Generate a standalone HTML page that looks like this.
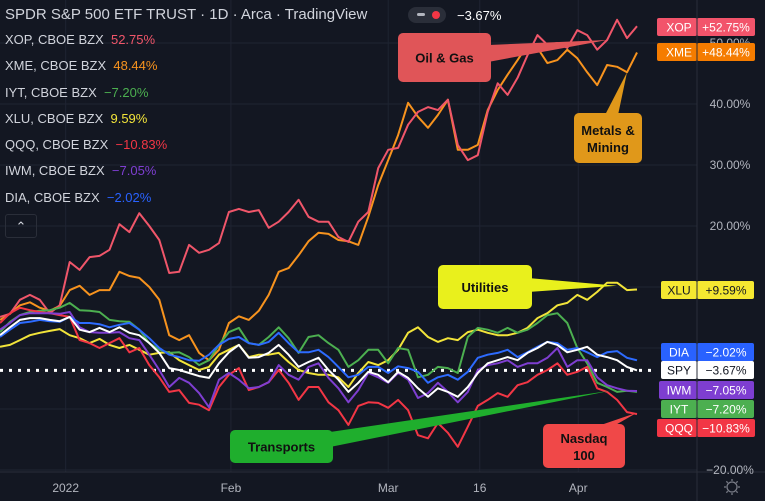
<!DOCTYPE html>
<html><head><meta charset="utf-8">
<style>
html,body{margin:0;padding:0;background:#131722;}
body{width:765px;height:501px;overflow:hidden;position:relative;font-family:"Liberation Sans",sans-serif;}
svg{position:absolute;left:0;top:0;}
</style></head>
<body>
<svg id="chart" width="765" height="501" xmlns="http://www.w3.org/2000/svg"></svg>
<script>
const tickerNames = ["XOP","XME","IYT","XLU","QQQ","IWM","DIA","SPY"];
const finalValues = [52.75,48.44,-7.20,9.59,-10.83,-7.05,-2.02,-3.67];
const xopValues = [5.1,5.6,7.9,8.7,7.9,5.7,7.0,14.1,12.8,14.9,15.1,16.1,20.3,19.0,22.1,20.0,17.7,12.3,12.5,16.9,15.6,16.1,17.2,22.3,22.8,22.3,22.6,19.7,20.7,22.3,24.3,21.5,20.7,20.7,18.2,17.4,20.7,22.3,29.5,32.5,32.8,36.6,38.7,39.5,39.0,40.7,33.3,30.8,31.6,38.7,43.4,41.5,44.3,48.0,51.3,49.7,50.0,49.2,52.1,51.3,48.9,50.5,53.8,50.8,52.75];
const xmeValues = [4.6,5.6,7.0,7.5,6.6,6.1,6.9,9.5,10.2,8.7,9.5,9.5,12.5,11.8,11.5,10.0,7.9,2.1,1.3,2.1,-0.8,-2.0,-0.3,4.1,5.2,4.6,6.1,8.7,12.5,13.1,15.2,17.5,18.9,18.7,17.7,17.5,16.9,21.5,26.7,30.8,34.9,40.2,37.9,36.1,38.2,40.7,32.5,32.5,33.3,39.0,42.3,44.8,47.2,49.7,49.2,46.7,47.2,48.9,47.5,45.2,43.1,46.4,46.1,45.2,48.44];
const iytValues = [2.6,4.3,5.4,5.9,6.1,6.2,6.6,7.4,6.2,6.1,5.9,4.6,4.4,4.3,3.0,0.8,-0.3,-0.8,-0.7,-1.5,-2.8,-2.0,0.5,2.6,3.3,0.8,0.5,1.8,3.4,1.6,-0.8,1.8,2.1,0.8,-0.3,-3.1,-2.0,-0.3,-0.3,-2.5,0,-0.3,-4.8,-4.4,-3.1,-3.3,-4.1,1.8,3.3,3.0,2.5,3.3,2.5,3.0,4.1,5.4,5.7,4.1,0,-2.5,-5.7,-6.4,-7.2,-7.0,-7.20];
const xluValues = [0.2,0.5,1.3,2.1,2.5,2.8,3.1,2.1,1.6,0.8,1.5,0.5,0,0.5,-0.3,-1.1,-0.8,-0.7,-2.0,-2.8,-3.6,-3.1,-1.1,-0.3,0.5,-1.5,-1.1,-1.1,-0.8,-2.3,-3.6,-4.1,-4.4,-4.4,-4.8,-6.4,-4.1,-2.3,-2.8,-2.0,-0.3,2.5,3.4,1.8,1.0,1.6,1.3,2.6,3.0,2.5,2.1,2.1,2.5,3.3,4.9,5.7,7.0,7.4,8.7,7.9,9.2,10.7,10.7,9.5,9.59];
const qqqValues = [4.1,5.7,6.6,6.2,5.9,5.7,5.4,5.1,1.3,0.8,0,0.8,1.6,-0.7,0,-2.8,-4.8,-7.2,-6.9,-9.0,-9.3,-10.2,-6.4,-4.4,-3.3,-6.9,-6.4,-5.6,-3.6,-5.7,-8.5,-6.4,-6.4,-8.9,-10.2,-12.6,-9.5,-8.9,-9.0,-9.8,-8.5,-10.2,-14.3,-14.8,-12.3,-13.9,-16.2,-12.9,-9.5,-8.5,-7.4,-8.0,-6.1,-5.6,-4.4,-3.6,-2.5,-4.4,-3.9,-3.1,-6.6,-7.2,-8.5,-10.5,-10.83];
const iwmValues = [3.0,4.1,5.4,5.7,5.7,5.7,5.6,5.9,3.4,2.6,2.5,2.5,2.6,1.6,1.3,-1.1,-3.6,-6.4,-4.9,-5.7,-7.4,-9.7,-5.2,-4.1,-5.2,-6.6,-6.4,-5.6,-2.8,-4.4,-5.2,-3.1,-2.5,-4.9,-6.6,-8.9,-6.9,-4.1,-4.8,-5.7,-4.1,-5.2,-8.2,-7.4,-5.7,-7.2,-8.9,-7.2,-3.6,-2.8,-2.5,-2.0,-3.1,-2.5,-2.5,-1.6,0,-3.1,-2.0,-2.0,-4.8,-6.1,-6.6,-7.0,-7.05];
const diaValues = [1.8,3.0,4.1,4.3,4.6,4.4,4.3,5.1,4.1,4.1,3.9,3.4,3.8,4.1,3.0,1.6,0,-1.1,-1.5,-2.0,-2.1,-1.1,0.5,1.5,1.8,0.8,0.5,1.0,2.5,0.8,-0.7,-0.7,-0.3,-1.5,-3.1,-4.8,-4.4,-3.1,-3.1,-4.1,-3.0,-3.3,-3.9,-5.7,-4.8,-4.4,-5.2,-3.9,-1.6,-1.1,-0.8,-0.3,-1.5,-0.7,0.2,1.0,0.8,-0.3,0,-0.7,-1.5,-0.7,-0.5,-1.6,-2.02];
const spyValues = [2.1,3.4,4.6,4.9,4.9,4.6,4.4,5.1,3.0,2.6,3.3,2.6,3.4,2.5,2.1,0.8,-0.8,-3.3,-3.6,-4.1,-4.6,-4.9,-2.5,-0.7,0.5,-1.6,-1.5,-0.8,0.5,-1.1,-3.1,-2.3,-1.6,-3.6,-5.2,-7.2,-5.7,-3.9,-4.4,-5.6,-3.9,-4.9,-6.6,-8.0,-6.6,-7.2,-8.0,-6.4,-4.1,-2.5,-2.0,-1.5,-2.0,-0.8,0,1.0,0.5,-0.7,-0.3,0.2,-1.1,-1.5,-2.0,-3.1,-3.67];
const timeLabels = ["2022","Feb","Mar","16","Apr"];
const timeLabelIndex = [6.6,23.2,39.0,48.2,58.1];
const priceTicks = [50,40,30,20,10,0,-10,-20];
const priceTickLabels = ["50.00%","40.00%","30.00%","20.00%","","","","−20.00%"];

const NS="http://www.w3.org/2000/svg";
const svg=document.getElementById('chart');
const N=xopValues.length;
function xScale(i){return i*637/(N-1);}
function yScale(v){return 348-v*6.1;}
function mk(tag,attrs,parent){const e=document.createElementNS(NS,tag);for(const k in attrs)e.setAttribute(k,attrs[k]);(parent||svg).appendChild(e);return e;}

// background
const bg=mk('rect',{x:0,y:0,width:765,height:501,fill:'#131722'});



// grid
const grid=mk('g',{});


priceTicks.forEach(t=>{const l=mk('line',{x1:0,x2:697,y1:yScale(t),y2:yScale(t),stroke:'#1f2432','stroke-width':1},grid);

});
timeLabelIndex.forEach(i=>{const l=mk('line',{x1:xScale(i),x2:xScale(i),y1:0,y2:472,stroke:'#1f2432','stroke-width':1},grid);

});

// axes
const ax=mk('line',{x1:697,x2:697,y1:0,y2:501,stroke:'#2a2e39','stroke-width':1});


const tx=mk('line',{x1:0,x2:765,y1:472,y2:472,stroke:'#2a2e39','stroke-width':1});



priceTicks.forEach((t,k)=>{if(!priceTickLabels[k])return;const e=mk('text',{x:730,y:yScale(t)+4,fill:'#b2b5be','font-size':12,'text-anchor':'middle','font-family':'Liberation Sans, sans-serif'});e.textContent=priceTickLabels[k];

});
timeLabels.forEach((s,k)=>{const e=mk('text',{x:xScale(timeLabelIndex[k]),y:492,fill:'#b2b5be','font-size':12,'text-anchor':'middle','font-family':'Liberation Sans, sans-serif'});e.textContent=s;

});

// SPY dotted last-value line
const dl=mk('line',{x1:0,x2:655,y1:yScale(finalValues[7]),y2:yScale(finalValues[7]),stroke:'#ffffff','stroke-width':3,'stroke-dasharray':'3 6'});



const seriesList=[
 ['xme',xmeValues,'#f7931e'],
 ['xop',xopValues,'#f0566a'],
 ['xlu',xluValues,'#f2e43a'],
 ['iyt',iytValues,'#4caf50'],
 ['qqq',qqqValues,'#f23645'],
 ['iwm',iwmValues,'#7e3ed1'],
 ['dia',diaValues,'#2d6bff'],
 ['spy',spyValues,'#ffffff']
];
seriesList.forEach(s=>{
 const pts=s[1].map((v,i)=>xScale(i).toFixed(1)+','+yScale(v).toFixed(1)).join(' ');
 const p=mk('polyline',{points:pts,fill:'none',stroke:s[2],'stroke-width':2,'stroke-linejoin':'round'});
 
 
});

// callouts
function callout(name,bx,by,bw,bh,color,tip,base,lines,tcolor){
 const g=mk('g',{});
 
 
 mk('polygon',{points:base.map(p=>p.join(',')).join(' ')+' '+tip.join(','),fill:color},g);
 mk('rect',{x:bx,y:by,width:bw,height:bh,rx:5,fill:color},g);
 lines.forEach((t,k)=>{const e=mk('text',{x:bx+bw/2,y:by+bh/2+5-(lines.length-1)*8+k*17,fill:tcolor||'#111','font-size':13,'font-weight':'bold','text-anchor':'middle','font-family':'Liberation Sans, sans-serif'},g);e.textContent=t;});
}
callout('oil-gas-callout',398,33,93,49,'#e05558',[xScale(61),yScale(50.5)],[[488,45],[488,62]],['Oil & Gas']);
callout('metals-mining-callout',574,113,68,50,'#e0981a',[xScale(63),yScale(45.2)],[[605,115],[618,115]],['Metals &','Mining']);
callout('utilities-callout',438,265,94,44,'#e9f01c',[xScale(62),yScale(10.2)],[[528,278],[528,292]],['Utilities']);
callout('transports-callout',230,430,103,33,'#1fae2d',[xScale(61.3),yScale(-7.0)],[[330,432],[330,447]],['Transports']);
callout('nasdaq-callout',543,424,82,44,'#f04848',[xScale(64),yScale(-10.6)],[[595,427],[612,427]],['Nasdaq','100']);

// right tags
const tagColors=['#f2546b','#f57c00','#4caf50','#f5e831','#f23645','#7e3ed1','#2962ff','#ffffff'];
const tagY=[27,52,409,290,428,390,352,370];
const tagText=['+52.75%','+48.44%','−7.20%','+9.59%','−10.83%','−7.05%','−2.02%','−3.67%'];
tickerNames.forEach((n,k)=>{
 const g=mk('g',{});
 
 
 const dark=(n==='XLU'||n==='SPY');
 const tc=dark?'#131722':'#ffffff';
 const w=n.length===3?36:36;
 mk('rect',{x:697-(n==='QQQ'||n==='XOP'||n==='XME'?40:36)+(n==='IWM'?-2:0),y:tagY[k]-9,width:(n==='QQQ'||n==='XOP'||n==='XME'?40:36)+(n==='IWM'?2:0),height:18,rx:2,fill:tagColors[k]},g);
 const bw=(n==='XLU'||n==='DIA'||n==='SPY'||n==='IWM'||n==='IYT')?57:58;
 mk('rect',{x:697,y:tagY[k]-9,width:bw,height:18,rx:2,fill:tagColors[k]},g);
 mk('line',{x1:697,x2:697,y1:tagY[k]-9,y2:tagY[k]+9,stroke:'#2a2e39','stroke-width':1},g);
 const a=mk('text',{x:679,y:tagY[k]+4.5,fill:tc,'font-size':12,'text-anchor':'middle','font-family':'Liberation Sans, sans-serif'},g);a.textContent=n;
 const b=mk('text',{x:726,y:tagY[k]+4.5,fill:tc,'font-size':12,'text-anchor':'middle','font-family':'Liberation Sans, sans-serif'},g);b.textContent=tagText[k];
});

// gear icon
const gear=mk('g',{});


mk('circle',{cx:732,cy:487,r:5,fill:'none',stroke:'#787b86','stroke-width':1.3},gear);
for(let a=0;a<8;a++){const r=a*Math.PI/4;mk('line',{x1:732+6*Math.cos(r),y1:487+6*Math.sin(r),x2:732+8*Math.cos(r),y2:487+8*Math.sin(r),stroke:'#787b86','stroke-width':1.3},gear);}
</script>

<div style="position:absolute;left:5px;top:4px;font-size:13px;line-height:26.3px;color:#d1d4dc;">
 <div style="font-size:15px;line-height:22px;">SPDR S&amp;P 500 ETF TRUST · 1D · Arca · TradingView</div>
 <div style="margin-top:1px;">XOP, CBOE BZX &nbsp;<span style="color:#f0566a">52.75%</span></div>
 <div>XME, CBOE BZX &nbsp;<span style="color:#f7931e">48.44%</span></div>
 <div>IYT, CBOE BZX &nbsp;<span style="color:#4caf50">−7.20%</span></div>
 <div>XLU, CBOE BZX &nbsp;<span style="color:#f2e43a">9.59%</span></div>
 <div>QQQ, CBOE BZX &nbsp;<span style="color:#f23645">−10.83%</span></div>
 <div>IWM, CBOE BZX &nbsp;<span style="color:#7e3ed1">−7.05%</span></div>
 <div>DIA, CBOE BZX &nbsp;<span style="color:#2962ff">−2.02%</span></div>
</div>
<div style="position:absolute;left:5px;top:214px;width:30px;height:22px;border:1px solid #2a2e39;border-radius:3px;color:#d1d4dc;font-size:13px;text-align:center;line-height:24px;">&#8963;</div>
<div style="position:absolute;left:408px;top:7px;width:38px;height:16px;border-radius:8px;background:#2a2e39;"><div style="position:absolute;left:9px;top:6px;width:8px;height:3px;background:#b2b5be;border-radius:2px;"></div><div style="position:absolute;left:24px;top:4px;width:8px;height:8px;background:#f23645;border-radius:4px;"></div></div>
<div style="position:absolute;left:457px;top:8px;font-size:13px;color:#ffffff;">−3.67%</div>
</body></html>
